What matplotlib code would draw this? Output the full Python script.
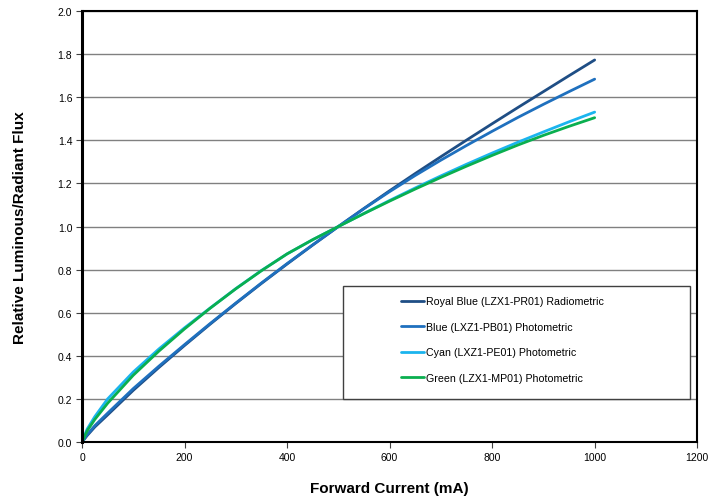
import matplotlib
matplotlib.use('Agg')
import matplotlib.pyplot as plt
from matplotlib.patches import Rectangle

plt.rcParams['font.family'] = ['Liberation Sans', 'DejaVu Sans']

## values ##
current = [0, 10, 25, 50, 100, 150, 200, 250, 300, 350, 400, 450, 500,
           550, 600, 650, 700, 750, 800, 850, 900, 950, 1000]

royal_blue = [0, 0.03, 0.07, 0.126, 0.24, 0.346, 0.448, 0.547, 0.643, 0.736, 0.826, 0.914, 1.0,
              1.084, 1.166, 1.246, 1.324, 1.401, 1.477, 1.552, 1.626, 1.70, 1.773]
blue = [0, 0.034, 0.076, 0.134, 0.248, 0.352, 0.452, 0.55, 0.645, 0.738, 0.828, 0.915, 1.0,
        1.083, 1.162, 1.237, 1.308, 1.376, 1.442, 1.506, 1.567, 1.626, 1.684]
cyan = [0, 0.06, 0.118, 0.20, 0.325, 0.432, 0.530, 0.622, 0.712, 0.796, 0.873, 0.939, 1.0,
        1.061, 1.121, 1.179, 1.235, 1.289, 1.341, 1.391, 1.439, 1.486, 1.531]
green = [0, 0.052, 0.105, 0.18, 0.31, 0.422, 0.525, 0.621, 0.711, 0.795, 0.873, 0.939, 1.0,
         1.06, 1.118, 1.174, 1.228, 1.28, 1.33, 1.378, 1.423, 1.465, 1.505]

labels = ['Royal Blue (LZX1-PR01) Radiometric',
          'Blue (LXZ1-PB01) Photometric',
          'Cyan (LXZ1-PE01) Photometric',
          'Green (LZX1-MP01) Photometric']
colors = ['#1F4E85', '#1F70BE', '#1BB4EE', '#0AAF4F']

fig = plt.figure(figsize=(7.12, 5.02), dpi=100)
ax = fig.add_axes([0.1152, 0.1175, 0.864, 0.8585])

for series, lab, c in zip([royal_blue, blue, cyan, green], labels, colors):
    ax.plot(current, series, color=c, lw=2.0, label=lab, solid_capstyle='round',
            solid_joinstyle='round')

ax.set_xlim(0, 1200)
ax.set_ylim(0, 2.0)
ax.set_xticks(range(0, 1201, 200))
ax.set_yticks([i / 10 for i in range(0, 21, 2)])
ax.set_yticklabels([f'{i / 10:.1f}' for i in range(0, 21, 2)])
ax.yaxis.grid(True, color='#808080', lw=1.0)
ax.set_axisbelow(True)

for side in ['top', 'right', 'bottom']:
    ax.spines[side].set_linewidth(1.5)
    ax.spines[side].set_color('black')
ax.spines['left'].set_linewidth(2.2)
ax.tick_params(axis='both', labelsize=7.5, length=4, width=0.8, direction='out',
               color='#404040', pad=3)

ax.set_xlabel('Forward Current (mA)', fontsize=11, fontweight='bold', labelpad=14)
ax.set_ylabel('Relative Luminous/Radiant Flux', fontsize=11, fontweight='bold', labelpad=22)

## legend box drawn separately so the entries can sit with a wide left margin ##
box = Rectangle((0.424, 0.1005), 0.564, 0.262, transform=ax.transAxes,
                facecolor='white', edgecolor='#404040', lw=1.0, zorder=4)
ax.add_patch(box)
leg = ax.legend(loc='upper left', bbox_to_anchor=(0.518, 0.338), frameon=False,
                fontsize=7.7, borderpad=0, labelspacing=1.45, handlelength=2.2,
                handletextpad=0.15, borderaxespad=0)
leg.set_zorder(5)

fig.savefig('out.png', dpi=100)
